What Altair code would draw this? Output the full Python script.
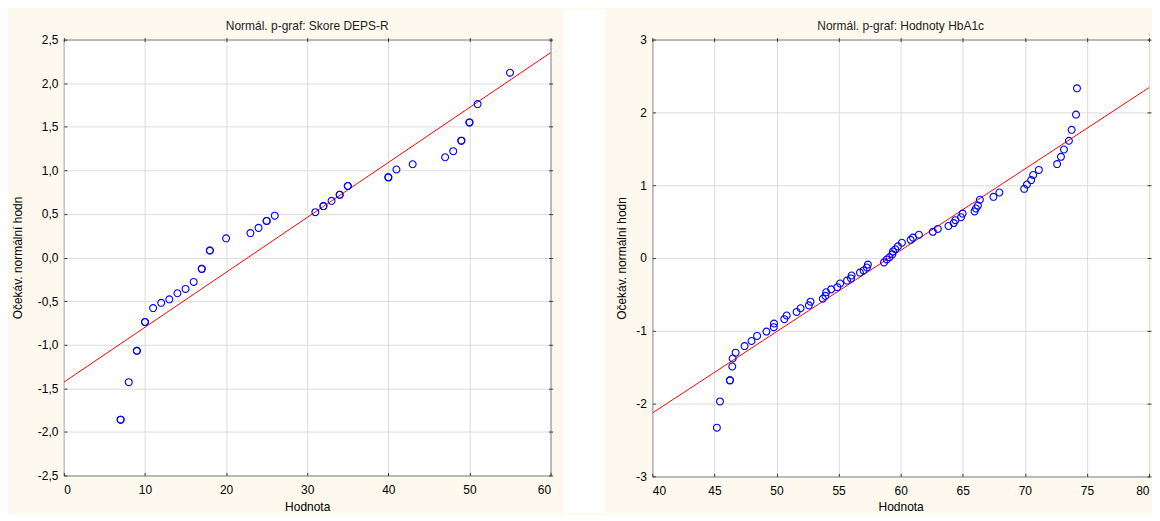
import altair as alt
import pandas as pd

TITLE_L = "Normál. p-graf: Skore DEPS-R"
TITLE_R = "Normál. p-graf: Hodnoty HbA1c"
Y_TITLE = "Očekáv. normální hodn"
X_TITLE = "Hodnota"

# Left panel: Skore DEPS-R
left_x = [7, 7, 8, 9, 9, 10, 10, 11, 12, 13, 14, 15, 16, 17, 17, 18, 18, 20, 23, 24,
          25, 25, 26, 31, 32, 32, 33, 34, 34, 35, 35, 40, 40, 41, 43, 47, 48, 49, 49, 50,
          50, 51, 55]
left_y = [-1.86, -1.86, -1.43, -1.07, -1.07, -0.74, -0.74, -0.58, -0.52, -0.48, -0.41, -0.36,
          -0.28, -0.13, -0.13, 0.08, 0.08, 0.22, 0.28, 0.34, 0.42, 0.42, 0.48, 0.52, 0.59,
          0.59, 0.65, 0.72, 0.72, 0.82, 0.82, 0.92, 0.92, 1.01, 1.07, 1.15, 1.22, 1.34, 1.34,
          1.55, 1.55, 1.76, 2.12]
left_line_x = [0, 60]
left_line_y = [-1.43, 2.35]
left_xticks = [0, 10, 20, 30, 40, 50, 60]
left_yticks = [-2.5, -2.0, -1.5, -1.0, -0.5, 0.0, 0.5, 1.0, 1.5, 2.0, 2.5]

# Right panel: Hodnoty HbA1c
right_x = [45.2, 45.45, 46.25, 46.25, 46.44, 46.47, 46.71, 47.43, 47.99, 48.44, 49.19, 49.78,
           49.8, 50.63, 50.82, 51.62, 51.94, 52.61, 52.74, 53.73, 53.94, 54.0, 54.4, 54.9,
           55.12, 55.68, 56.0, 56.05, 56.72, 57.01, 57.28, 57.36, 58.66, 58.88, 59.1, 59.33,
           59.38, 59.57, 59.78, 60.1, 60.8, 60.99, 61.47, 62.59, 62.99, 63.85, 64.27, 64.41,
           64.86, 64.99, 65.95, 66.06, 66.22, 66.38, 67.47, 67.95, 69.95, 70.17, 70.51, 70.67,
           71.13, 72.6, 72.91, 73.15, 73.55, 73.77, 74.12, 74.2]
right_y = [-2.33, -1.97, -1.68, -1.68, -1.49, -1.38, -1.30, -1.21, -1.14, -1.07, -1.01, -0.95,
           -0.90, -0.84, -0.79, -0.74, -0.69, -0.65, -0.60, -0.56, -0.52, -0.47, -0.43, -0.40,
           -0.35, -0.31, -0.28, -0.24, -0.20, -0.17, -0.13, -0.09, -0.06, -0.02, 0.01, 0.05,
           0.09, 0.12, 0.16, 0.21, 0.25, 0.28, 0.32, 0.36, 0.40, 0.44, 0.48, 0.52, 0.56, 0.61,
           0.64, 0.68, 0.72, 0.80, 0.84, 0.90, 0.95, 1.01, 1.07, 1.14, 1.21, 1.29, 1.39, 1.49,
           1.61, 1.76, 1.97, 2.33]
right_line_x = [40, 80]
right_line_y = [-2.13, 2.34]
right_xticks = [40, 45, 50, 55, 60, 65, 70, 75, 80]
right_yticks = [-3, -2, -1, 0, 1, 2, 3]

FONT = "Liberation Sans"
BEIGE = "#FDF9EE"
MINUS = "\u2212"

XLAB = "replace(format(datum.value, 'd'), '" + MINUS + "', '-')"
YLAB_L = "replace(replace(format(datum.value, '.1f'), '.', ','), '" + MINUS + "', '-')"
YLAB_R = "replace(format(datum.value, 'd'), '" + MINUS + "', '-')"

TOP = 30


def panel(px, py, lx, ly, xdom, xticks, ydom, yticks, ylab, title, w, h,
          ytitle_x, xtitle_y, left_ext, gap_from, gap_to):
    pts = pd.DataFrame({"x": px, "y": py})
    ln = pd.DataFrame({"x": lx, "y": ly})
    one = alt.Data(values=[{"a": 0}])
    xs = alt.Scale(domain=xdom, nice=False, zero=False)
    ys = alt.Scale(domain=ydom, nice=False, zero=False)

    line = alt.Chart(ln).mark_line(color="#FF0000", strokeWidth=1, clip=True).encode(
        x=alt.X("x:Q", scale=xs, axis=alt.Axis(
            orient="bottom", values=xticks, offset=-3, tickSize=3, labelPadding=9,
            grid=True, title=X_TITLE, titleY=xtitle_y, titleBaseline="middle",
            labelExpr=XLAB)),
        y=alt.Y("y:Q", scale=ys, axis=alt.Axis(
            orient="left", values=yticks, offset=-3, tickSize=3, labelPadding=6,
            grid=True, title=Y_TITLE, titleX=ytitle_x, titleBaseline="middle",
            labelExpr=ylab)),
    )
    points = alt.Chart(pts).mark_point(
        shape="circle", filled=False, color="#0000FF", size=48, strokeWidth=1.1, opacity=1
    ).encode(
        x=alt.X("x:Q", scale=xs, axis=alt.Axis(
            orient="top", values=xticks, offset=-2, tickSize=4, labels=False,
            grid=False, domain=False, title=None)),
        y=alt.Y("y:Q", scale=ys, axis=alt.Axis(
            orient="right", values=yticks, offset=-2, tickSize=4, labels=False,
            grid=False, domain=False, title=None)),
    )
    left_spacer = alt.Chart(one).mark_rect(opacity=0).encode(
        x=alt.value(-left_ext), x2=alt.value(0),
        y=alt.value(-TOP), y2=alt.value(h))
    ttl = alt.Chart(one).mark_text(
        font=FONT, fontSize=12, color="#222222", align="center", baseline="alphabetic"
    ).encode(x=alt.value(w / 2), y=alt.value(-10), text=alt.value(title))

    layers = [left_spacer]
    if gap_to > gap_from:
        gap = alt.Chart(one).mark_rect(color="white", opacity=1).encode(
            x=alt.value(gap_from), x2=alt.value(gap_to),
            y=alt.value(-TOP), y2=alt.value(h + 38))
        layers.append(gap)
    layers += [line, points, ttl]
    return alt.layer(*layers).resolve_axis(
        x="independent", y="independent").properties(width=w, height=h)


left = panel(left_x, left_y, left_line_x, left_line_y, [0, 60], left_xticks,
             [-2.5, 2.5], left_yticks, YLAB_L, TITLE_L, 488, 437,
             ytitle_x=-49, xtitle_y=34, left_ext=55, gap_from=501, gap_to=543)
right = panel(right_x, right_y, right_line_x, right_line_y, [40, 80], right_xticks,
              [-3, 3], right_yticks, YLAB_R, TITLE_R, 498, 438,
              ytitle_x=-34, xtitle_y=33, left_ext=45, gap_from=0, gap_to=0)

chart = alt.hconcat(left, right, spacing=0).properties(
    background=BEIGE, padding=0
).configure_view(
    stroke="#333333", strokeWidth=1, fill="white"
).configure_axis(
    labelFont=FONT, labelFontSize=12, labelColor="#000000",
    titleFont=FONT, titleFontSize=12, titleColor="#000000", titleFontWeight="normal",
    tickColor="#333333", tickWidth=1, gridColor="#DCDCDC", gridWidth=1, domain=False
)

chart.save("out.html", embed_options={"renderer": "svg", "actions": False})
